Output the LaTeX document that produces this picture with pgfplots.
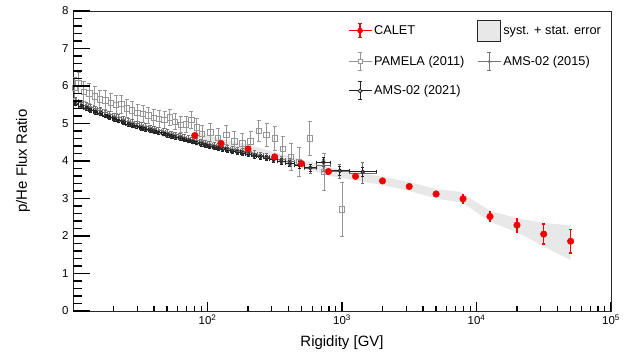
\documentclass[border=0pt]{standalone}
\usepackage{pgfplots}
\pgfplotsset{compat=1.18}
\usepackage{pgfplotstable}
\usepackage{fontspec}
\setmainfont{Liberation Sans}
\definecolor{pamgray}{RGB}{150,150,150}
\definecolor{amsA}{RGB}{115,115,115}
\definecolor{amsB}{RGB}{35,35,35}
\definecolor{bandgray}{RGB}{232,232,232}
\definecolor{caletred}{RGB}{240,0,0}

\pgfplotstableread{
x y e
80.4 4.68 0.03
126 4.47 0.03
200 4.32 0.03
316 4.11 0.03
500 3.93 0.03
794 3.72 0.04
1260 3.59 0.04
2000 3.47 0.05
3160 3.32 0.05
5010 3.12 0.07
7940 2.99 0.12
12600 2.52 0.13
20000 2.29 0.18
31600 2.05 0.27
50100 1.86 0.31
}\caletdata

\pgfplotstableread{
x y e
10.3 5.95 0.28
11.0 6.08 0.27
12.0 5.85 0.27
13.2 5.80 0.26
14.5 5.72 0.26
15.8 5.64 0.25
17.4 5.62 0.25
19.1 5.55 0.24
20.9 5.50 0.24
22.9 5.52 0.24
25.1 5.40 0.23
27.5 5.35 0.23
30.2 5.28 0.22
33.1 5.26 0.22
36.3 5.22 0.22
39.8 5.15 0.22
43.7 5.12 0.22
47.9 5.10 0.22
52.5 5.16 0.22
57.5 5.05 0.22
63.1 4.97 0.22
69.2 4.98 0.22
75.9 5.10 0.23
83.2 4.90 0.23
91.2 4.72 0.23
105 4.76 0.24
120 4.61 0.25
138 4.70 0.25
158 4.52 0.26
182 4.47 0.27
209 4.52 0.28
240 4.81 0.28
275 4.70 0.30
316 4.60 0.33
363 4.32 0.33
417 4.11 0.35
479 3.98 0.38
575 4.60 0.45
741 3.71 0.50
1000 2.71 0.72
}\pameladata

\pgfplotstableread{
x y ey xm xp
10.5 5.52 0.05 0.4 0.5
11.5 5.45 0.05 0.5 0.5
12.5 5.40 0.05 0.5 0.5
13.5 5.35 0.05 0.5 0.6
14.7 5.30 0.05 0.6 0.6
15.9 5.26 0.05 0.6 0.7
17.3 5.20 0.05 0.7 0.7
18.7 5.16 0.05 0.7 0.8
20.3 5.11 0.05 0.8 0.8
21.9 5.07 0.05 0.8 0.9
23.7 5.02 0.05 0.9 1.0
25.7 4.97 0.05 1.0 1.0
27.7 4.94 0.05 1.0 1.1
29.9 4.91 0.05 1.1 1.2
32.3 4.87 0.05 1.2 1.2
34.8 4.84 0.05 1.3 1.3
37.5 4.81 0.05 1.4 1.4
40.4 4.78 0.05 1.5 1.5
43.5 4.75 0.05 1.6 1.6
46.8 4.72 0.05 1.7 1.7
50.3 4.69 0.05 1.8 1.9
54.1 4.66 0.05 1.9 2.0
58.2 4.63 0.05 2.1 2.1
62.5 4.60 0.05 2.2 2.3
67.2 4.57 0.05 2.4 2.5
72.3 4.54 0.05 2.6 2.6
77.6 4.51 0.05 2.7 2.9
83.4 4.48 0.05 2.9 3.1
89.7 4.45 0.05 3.2 3.3
96.4 4.42 0.05 3.4 3.6
104 4.39 0.05 4 4
112 4.36 0.05 4 4
120 4.34 0.05 4 5
130 4.32 0.06 5 5
141 4.29 0.06 6 6
153 4.26 0.06 6 7
167 4.24 0.06 7 8
183 4.21 0.06 8 9
201 4.18 0.06 9 10
222 4.14 0.06 11 11
246 4.11 0.07 13 13
275 4.08 0.07 16 16
310 4.04 0.07 19 20
354 3.99 0.08 24 25
409 3.94 0.08 30 32
481 3.89 0.09 40 44
581 3.82 0.10 56 62
727 3.97 0.12 84 95
964 3.74 0.12 142 166
1426 3.71 0.12 296 374
}\amsBdata

\pgfplotstableread{
x y ey xm xp
10.5 5.62 0.07 0.4 0.5
11.5 5.55 0.07 0.5 0.5
12.5 5.49 0.07 0.5 0.5
13.5 5.44 0.07 0.5 0.6
14.7 5.39 0.07 0.6 0.6
15.9 5.35 0.07 0.6 0.7
17.3 5.29 0.07 0.7 0.7
18.7 5.25 0.07 0.7 0.8
20.3 5.20 0.07 0.8 0.8
21.9 5.16 0.07 0.8 0.9
23.7 5.11 0.07 0.9 1.0
25.7 5.06 0.07 1.0 1.0
27.7 5.03 0.07 1.0 1.1
29.9 4.99 0.07 1.1 1.2
32.3 4.95 0.07 1.2 1.2
34.8 4.92 0.07 1.3 1.3
37.5 4.89 0.07 1.4 1.4
40.4 4.86 0.07 1.5 1.5
43.5 4.82 0.07 1.6 1.6
46.8 4.79 0.07 1.7 1.7
50.3 4.76 0.07 1.8 1.9
54.1 4.73 0.07 1.9 2.0
58.2 4.70 0.07 2.1 2.1
62.5 4.67 0.07 2.2 2.3
67.2 4.63 0.07 2.4 2.5
72.3 4.60 0.07 2.6 2.6
77.6 4.57 0.07 2.7 2.9
83.4 4.54 0.07 2.9 3.1
89.7 4.51 0.07 3.2 3.3
96.4 4.48 0.07 3.4 3.6
104 4.45 0.08 4 4
112 4.42 0.08 4 4
120 4.40 0.08 4 5
130 4.37 0.08 5 5
141 4.34 0.08 6 6
153 4.31 0.08 6 7
167 4.29 0.08 7 8
183 4.26 0.08 8 9
201 4.23 0.08 9 10
222 4.19 0.08 11 11
246 4.16 0.08 13 13
275 4.12 0.08 16 16
310 4.08 0.09 19 20
354 4.03 0.09 24 25
409 3.98 0.10 30 32
481 3.91 0.10 40 44
581 3.79 0.12 56 62
727 3.88 0.15 84 95
964 3.72 0.18 142 166
1426 3.68 0.27 296 374
}\amsAdata

\begin{document}
\begin{tikzpicture}
\begin{axis}[
  scale only axis, width=538bp, height=300bp,
  xmode=log, xmin=10, xmax=100000, ymin=0, ymax=8,
  axis line style={line width=0.9bp, black!85},
  ytick={0,1,2,3,4,5,6,7,8},
  yticklabel style={font=\fontsize{11.5}{13}\selectfont, xshift=-1bp},
  /pgf/number format/assume math mode=true,
  xtick={100,1000,10000,100000},
  minor xtick={20,30,40,50,60,70,80,90,200,300,400,500,600,700,800,900,2000,3000,4000,5000,6000,7000,8000,9000,20000,30000,40000,50000,60000,70000,80000,90000},
  xticklabels={10\textsuperscript{2},10\textsuperscript{3},10\textsuperscript{4},10\textsuperscript{5}},
  xticklabel style={font=\fontsize{11.5}{13}\selectfont},
  tick pos=left,
  tick align=inside,
  major tick length=9bp, minor tick length=5bp,
  every tick/.style={line width=1.1bp, black},
  xlabel={Rigidity [GV]}, ylabel={p/He Flux Ratio},
  every axis x label/.style={at={(axis description cs:0.5,-0.107)}, anchor=center, font=\fontsize{15}{18}\selectfont},
  every axis y label/.style={at={(axis description cs:-0.093,0.5)}, anchor=center, rotate=90, font=\fontsize{15}{18}\selectfont},
  legend columns=2,
  legend cell align=left,
  legend style={draw=none, fill=none, at={(0.505,0.978)}, anchor=north west,
    font=\fontsize{12.8}{15}\selectfont, row sep=10.5bp,
    /tikz/every even column/.append style={column sep=11bp}},
]
\coordinate (SW) at (rel axis cs:0,0);
\coordinate (NE) at (rel axis cs:1,1);

\addlegendimage{legend image code/.code={
  \draw[caletred, line width=1.3bp] (0bp,0bp) -- (23bp,0bp);
  \draw[caletred, line width=1.3bp] (11.5bp,-7bp) -- (11.5bp,7bp);
  \draw[caletred, line width=1.3bp] (9.5bp,-7bp) -- (13.5bp,-7bp) (9.5bp,7bp) -- (13.5bp,7bp);
  \fill[caletred] (11.5bp,0bp) circle (2.6bp);}}
\addlegendentry{CALET}
\addlegendimage{legend image code/.code={
  \draw[black!85, line width=0.9bp, fill=bandgray] (0bp,-10.5bp) rectangle (23bp,10.5bp);}}
\addlegendentry{syst. + stat. error}
\addlegendimage{legend image code/.code={
  \draw[pamgray, line width=0.8bp] (0bp,0bp) -- (23bp,0bp);
  \draw[pamgray, line width=0.8bp] (11.5bp,-9bp) -- (11.5bp,9bp);
  \draw[pamgray, line width=0.8bp] (9.5bp,-9bp) -- (13.5bp,-9bp) (9.5bp,9bp) -- (13.5bp,9bp);
  \draw[pamgray, line width=0.8bp, fill=white] (9.5bp,-2bp) rectangle (13.5bp,2bp);}}
\addlegendentry{PAMELA (2011)}
\addlegendimage{legend image code/.code={
  \draw[amsA, line width=0.8bp] (0bp,0bp) -- (23bp,0bp);
  \draw[amsA, line width=0.8bp] (11.5bp,-9bp) -- (11.5bp,9bp);
  \draw[amsA, line width=0.8bp] (9.5bp,-9bp) -- (13.5bp,-9bp) (9.5bp,9bp) -- (13.5bp,9bp);
  \fill[amsA] (11.5bp,0bp) circle (1.3bp);}}
\addlegendentry{AMS-02 (2015)}
\addlegendimage{legend image code/.code={
  \draw[amsB, line width=0.9bp] (0bp,0bp) -- (23bp,0bp);
  \draw[amsB, line width=0.9bp] (11.5bp,-9bp) -- (11.5bp,9bp);
  \draw[amsB, line width=0.9bp] (9.5bp,-9bp) -- (13.5bp,-9bp) (9.5bp,9bp) -- (13.5bp,9bp);
  \draw[amsB, line width=0.9bp, fill=white] (11.5bp,0bp) circle (1.9bp);}}
\addlegendentry{AMS-02 (2021)}

% band
\addplot[fill=bandgray, draw=none, forget plot] coordinates {
(80.4,4.80) (126,4.58) (200,4.44) (316,4.23) (500,4.04) (794,3.84) (1260,3.71) (2000,3.58) (3160,3.44) (5010,3.25) (7530,3.18) (12600,2.67) (20000,2.47) (31600,2.35) (50100,2.28)
(50100,1.36) (31600,1.72) (20000,2.10) (12600,2.38) (7940,2.88) (5010,3.00) (3160,3.20) (2000,3.36) (1260,3.48) (794,3.61) (500,3.82) (316,4.00) (200,4.20) (126,4.36) (80.4,4.56)
} -- cycle;

% PAMELA
\addplot[forget plot, only marks, mark=square, mark size=2.7bp,
  mark options={draw=pamgray, fill=white, line width=0.8bp},
  error bars/.cd, y dir=both, y explicit,
  error bar style={pamgray, line width=0.8bp},
  error mark options={rotate=90, mark size=2bp, pamgray, line width=0.8bp}]
  table[x=x, y=y, y error=e]{\pameladata};

% AMS-02 2015
\addplot[forget plot, only marks, mark=*, mark size=1.3bp,
  mark options={draw=amsA, fill=amsA},
  error bars/.cd, y dir=both, y explicit, x dir=both, x explicit,
  error bar style={amsA, line width=0.8bp},
  error mark options={rotate=90, mark size=1.5bp, amsA, line width=0.8bp}]
  table[x=x, y=y, y error=ey, x error minus=xm, x error plus=xp]{\amsAdata};

% AMS-02 2021
\addplot[forget plot, only marks, mark=o, mark size=1.9bp,
  mark options={draw=amsB, fill=white, line width=0.8bp},
  error bars/.cd, y dir=both, y explicit, x dir=both, x explicit,
  error bar style={amsB, line width=0.9bp},
  error mark options={rotate=90, mark size=1.5bp, amsB, line width=0.9bp}]
  table[x=x, y=y, y error=ey, x error minus=xm, x error plus=xp]{\amsBdata};

% CALET
\addplot[forget plot, only marks, mark=*, mark size=3.3bp,
  mark options={draw=caletred, fill=caletred},
  error bars/.cd, y dir=both, y explicit,
  error bar style={caletred, line width=1.5bp},
  error mark options={rotate=90, mark size=1.3bp, caletred, line width=1.5bp}]
  table[x=x, y=y, y error=e]{\caletdata};
\end{axis}
% axis decorations: longer y ticks as in the reference
\foreach \k in {0,...,8} \draw[black, line width=1.1bp] ([yshift=\k*37.5bp]SW) -- ++(17bp,0bp);
\foreach \k in {1,...,39} \draw[black, line width=1.1bp] ([yshift=\k*7.5bp]SW) -- ++(9bp,0bp);
\path ([shift={(-73bp,-42bp)}]SW) rectangle ([shift={(22bp,11bp)}]NE);
\end{tikzpicture}
\end{document}
